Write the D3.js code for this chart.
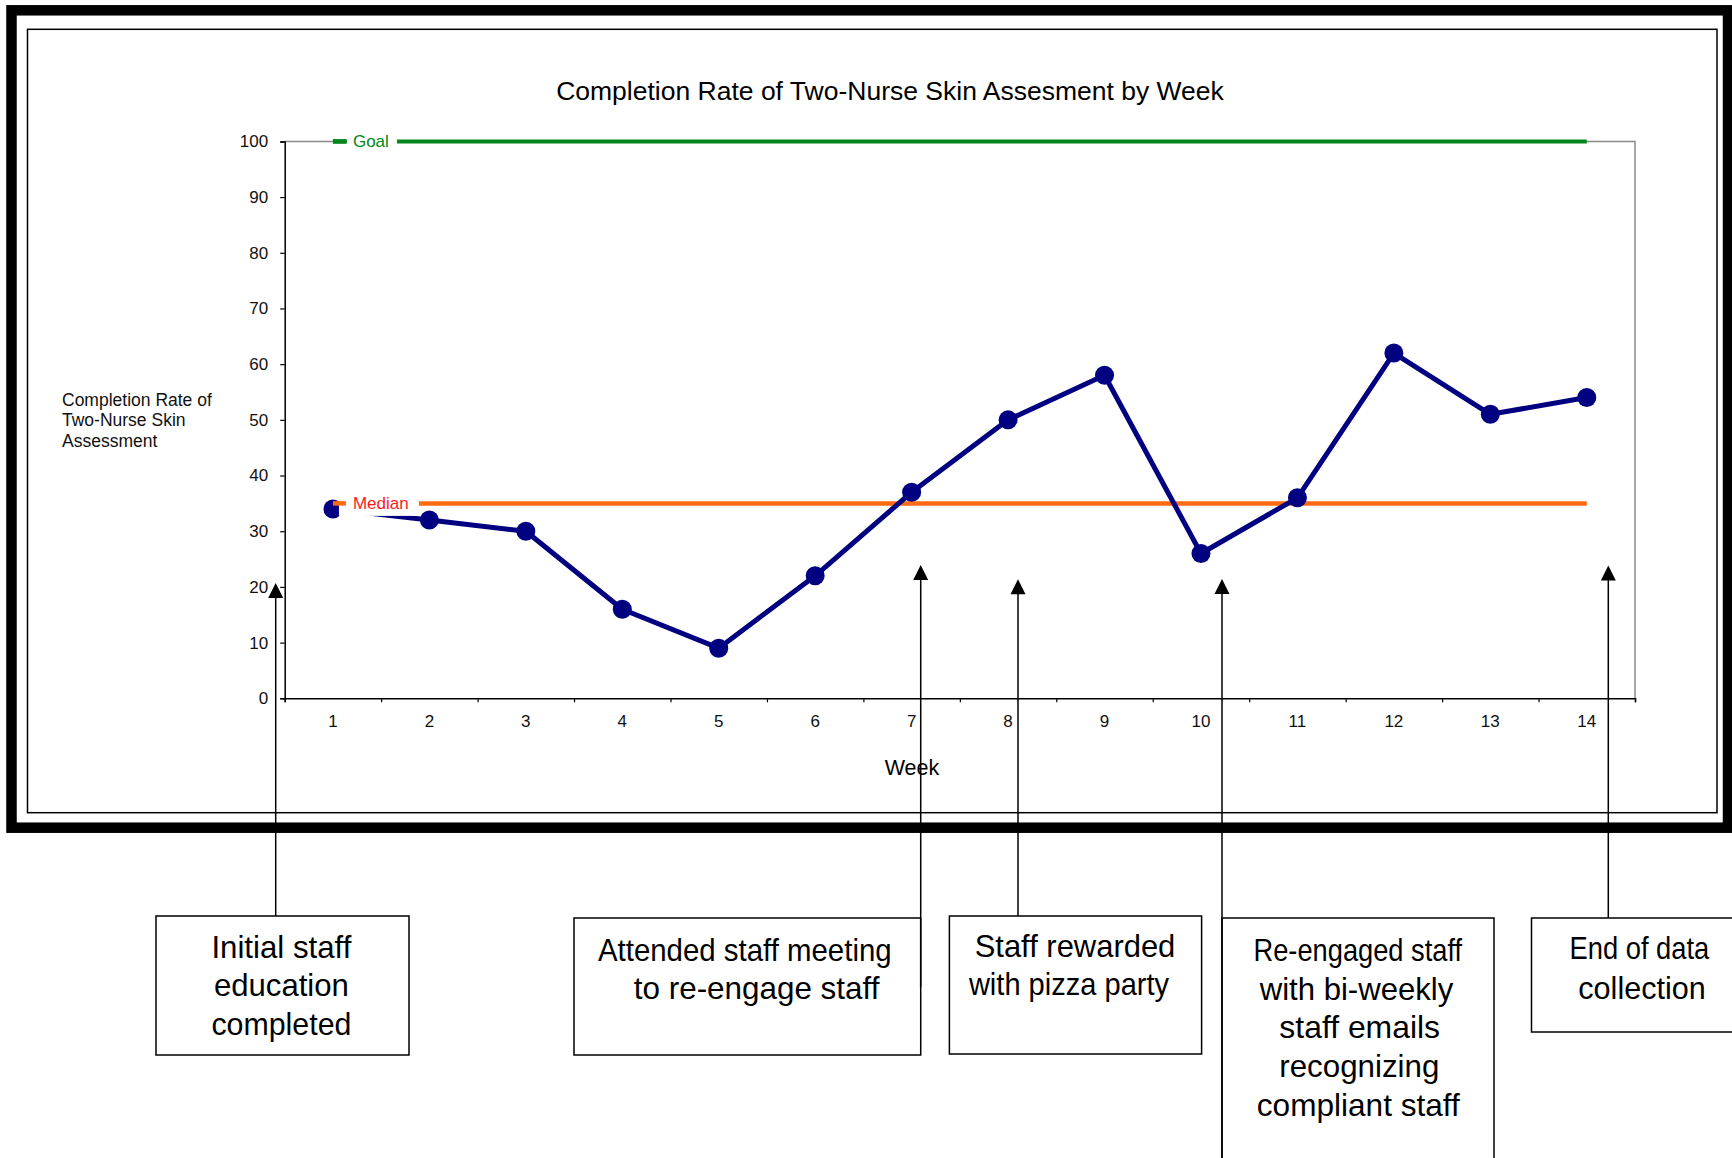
<!DOCTYPE html>
<html><head><meta charset="utf-8">
<script src="https://cdn.jsdelivr.net/npm/d3@7"></script>
<style>
body{margin:0;background:#fff}
svg{display:block}
text{font-family:"Liberation Sans",Arial,Helvetica,sans-serif}
</style>
</head><body>
<svg id="c" width="1732" height="1158"></svg>
<script>
// ---------- data ----------
const weeks = [1,2,3,4,5,6,7,8,9,10,11,12,13,14];
const rates = [34,32,30,16,9,22,37,50,58,26,36,62,51,54];
const goalValue = 100;
const medianValue = 35;
const yTickValues = [0,10,20,30,40,50,60,70,80,90,100];
const chartTitle = "Completion Rate of Two-Nurse Skin Assesment by Week";
const yTitleLines = ["Completion Rate of","Two-Nurse Skin","Assessment"];
const xTitle = "Week";
const annotationTexts = [
  ["Initial staff","education","completed"],
  ["Attended staff meeting","to re-engage staff"],
  ["Staff rewarded","with pizza party"],
  ["Re-engaged staff","with bi-weekly","staff emails","recognizing","compliant staff"],
  ["End of data","collection"]
];

// ---------- layout ----------
const W = 1732, H = 1158;
const svg = d3.select("#c");
const plot = {left:284.7, right:1635, top:141.4, bottom:698.3};
const x = d3.scaleLinear().domain([0.5, weeks.length + 0.5]).range([plot.left, plot.right]);
const y = d3.scaleLinear().domain([0, 100]).range([plot.bottom, plot.top]);
const navy = "#000080", green = "#00861a", orange = "#ff6a13", red = "#ff1a1a";

svg.append("rect").attr("width", W).attr("height", H).attr("fill", "#fff");

// outer frames
svg.append("rect").attr("x", 11.5).attr("y", 10.3).attr("width", 1716.5).attr("height", 817.4)
  .attr("fill", "none").attr("stroke", "#000").attr("stroke-width", 10.5);
svg.append("rect").attr("x", 27.5).attr("y", 29.3).attr("width", 1689.5).attr("height", 783.4)
  .attr("fill", "none").attr("stroke", "#000").attr("stroke-width", 1.5);

// title
svg.append("text").attr("x", 890).attr("y", 100).attr("text-anchor", "middle")
  .attr("font-size", 26.5).attr("fill", "#000").text(chartTitle);

// plot border (top/right gray)
svg.append("path")
  .attr("d", `M${plot.left},${plot.top}H${plot.right}V${plot.bottom}`)
  .attr("fill", "none").attr("stroke", "#8a8a8a").attr("stroke-width", 1.5);

// y axis
const yAxis = svg.append("g").attr("transform", `translate(${plot.left},0)`)
  .call(d3.axisLeft(y).tickValues(yTickValues).tickSize(4.5).tickPadding(12));
yAxis.select(".domain").attr("stroke", "#000").attr("stroke-width", 1.5);
yAxis.selectAll(".tick line").attr("stroke", "#000").attr("stroke-width", 1.2);
yAxis.selectAll(".tick text").attr("font-size", 17).attr("fill", "#111")
  .style("font-family", '"Liberation Sans",Arial,sans-serif');

// x axis (ticks at category boundaries)
const bounds = weeks.map(w => w - 0.5).concat([weeks[weeks.length - 1] + 0.5]);
const xAxis = svg.append("g").attr("transform", `translate(0,${plot.bottom})`)
  .call(d3.axisBottom(x).tickValues(bounds).tickSize(4).tickFormat(""));
xAxis.select(".domain").attr("stroke", "#000").attr("stroke-width", 1.5);
xAxis.selectAll(".tick line").attr("stroke", "#000").attr("stroke-width", 1.2);
svg.append("g").selectAll("text").data(weeks).join("text")
  .attr("x", d => x(d)).attr("y", 726.5).attr("text-anchor", "middle")
  .attr("font-size", 17).attr("fill", "#111").text(d => d);

// axis titles
svg.append("text").attr("x", 912).attr("y", 775).attr("text-anchor", "middle")
  .attr("font-size", 21.5).attr("fill", "#000").text(xTitle);
const yBase = [406, 426, 447];
svg.append("g").selectAll("text").data(yTitleLines).join("text")
  .attr("x", 62).attr("y", (d, i) => yBase[i]).attr("font-size", 17.5).attr("fill", "#111").text(d => d);

// goal & median lines
const first = weeks[0], last = weeks[weeks.length - 1];
svg.append("line").attr("x1", x(first)).attr("x2", x(last)).attr("y1", y(goalValue)).attr("y2", y(goalValue))
  .attr("stroke", green).attr("stroke-width", 4);
svg.append("line").attr("x1", x(first)).attr("x2", x(last)).attr("y1", y(medianValue)).attr("y2", y(medianValue))
  .attr("stroke", orange).attr("stroke-width", 4.5);

// series
const pts = weeks.map((w, i) => [x(w), y(rates[i])]);
svg.append("path").attr("d", d3.line()(pts)).attr("fill", "none")
  .attr("stroke", navy).attr("stroke-width", 5).attr("stroke-linejoin", "round");
svg.append("g").selectAll("circle").data(pts).join("circle")
  .attr("cx", d => d[0]).attr("cy", d => d[1]).attr("r", 9.5).attr("fill", navy);

// line labels with white background
function lineLabel(txt, val, color, boxLeft, boxRight, dashColor) {
  const cy = y(val);
  svg.append("rect").attr("x", boxLeft).attr("y", cy - 12.5).attr("width", boxRight - boxLeft).attr("height", 25).attr("fill", "#fff");
  svg.append("line").attr("x1", x(first)).attr("x2", x(first) + 13).attr("y1", cy).attr("y2", cy)
    .attr("stroke", dashColor).attr("stroke-width", 4.5);
  svg.append("text").attr("x", x(first) + 20).attr("y", cy).attr("dy", "0.35em")
    .attr("font-size", 17).attr("fill", color).text(txt);
}
lineLabel("Goal", goalValue, green, x(first) + 14, x(first) + 64, green);
lineLabel("Median", medianValue, red, x(first) + 6, x(first) + 86, orange);

// annotations (layout: arrow x, tip y, line end, box, per-line centre / baseline / width)
const annLayout = [
  {ax:275.7, tip:583,   end:916,  box:[156,916,409,1055],
   cx:[281.4,281.4,281.4], by:[958,996,1035], tw:[140,135,140]},
  {ax:920.7, tip:565,   end:987,  box:[574,918,920.7,1055],
   cx:[744.8,756.6], by:[961,999], tw:[293.7,245.6]},
  {ax:1018,  tip:579.3, end:916,  box:[949.4,916,1201.6,1054],
   cx:[1075,1069], by:[957,995], tw:[200.7,200.2]},
  {ax:1222,  tip:579,   end:1160, box:[1222,918,1494,1170],
   cx:[1357.8,1356.5,1359.7,1359.3,1358.3], by:[960.7,1000,1038.3,1076.7,1115.7], tw:[208.6,193.5,160.7,160,203]},
  {ax:1608.3,tip:565.6, end:918,  box:[1531.5,918,1750,1032],
   cx:[1639.4,1642], by:[959,999], tw:[139.7,127.3]}
];
annLayout.forEach((a, i) => {
  const g = svg.append("g");
  g.append("rect").attr("x", a.box[0]).attr("y", a.box[1]).attr("width", a.box[2] - a.box[0]).attr("height", a.box[3] - a.box[1])
    .attr("fill", "#fff").attr("stroke", "#000").attr("stroke-width", 1.5);
  g.append("line").attr("x1", a.ax).attr("x2", a.ax).attr("y1", a.tip + 14).attr("y2", a.end)
    .attr("stroke", "#000").attr("stroke-width", 1.5);
  g.append("path").attr("d", `M${a.ax},${a.tip}L${a.ax - 7.5},${a.tip + 15}L${a.ax + 7.5},${a.tip + 15}Z`).attr("fill", "#000");
  g.selectAll("text").data(annotationTexts[i]).join("text")
    .attr("x", (d, j) => a.cx[j]).attr("y", (d, j) => a.by[j]).attr("text-anchor", "middle")
    .attr("font-size", 31.5).attr("fill", "#000")
    .attr("textLength", (d, j) => a.tw[j]).attr("lengthAdjust", "spacingAndGlyphs")
    .text(d => d);
});
</script>
</body></html>
